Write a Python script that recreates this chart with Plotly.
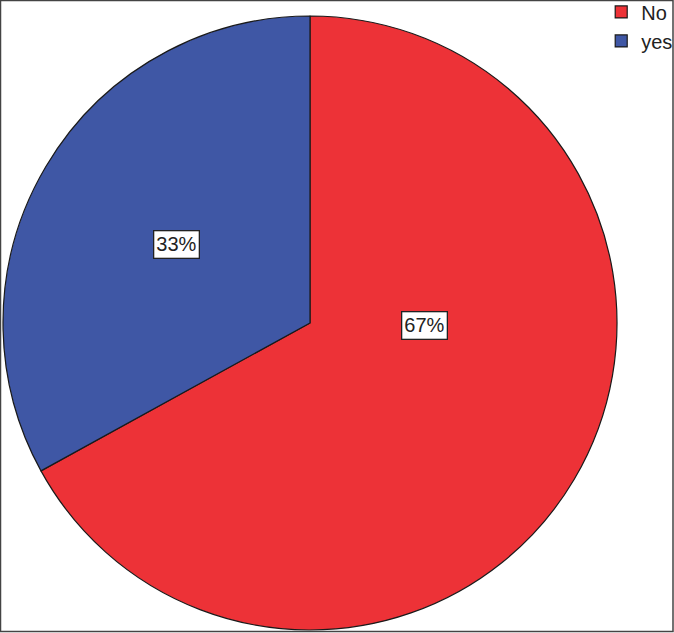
import plotly.graph_objects as go

labels = ['No', 'yes']
values = [67, 33]
colors = ['#ED3237', '#3F57A5']
label_text = ['67%', '33%']

W, H = 674, 633

fig = go.Figure(go.Pie(
    labels=labels,
    values=values,
    sort=False,
    direction='clockwise',
    rotation=0,
    marker=dict(colors=colors, line=dict(color='#1a1a1a', width=1.2)),
    textinfo='none',
    hoverinfo='label+percent',
    domain=dict(x=[3 / W, 617 / W], y=[3 / H, 617 / H]),
))

# boxed percentage labels, placed where the original chart puts them
label_font = dict(family='Arial, Liberation Sans', size=20, color='#222')
fig.add_annotation(x=425 / W, y=1 - 326 / H, xref='paper', yref='paper',
                   xanchor='center', yanchor='middle',
                   text=label_text[0], showarrow=False, font=label_font,
                   bgcolor='white', bordercolor='#222', borderwidth=1.3, borderpad=2)
fig.add_annotation(x=176 / W, y=1 - 244 / H, xref='paper', yref='paper',
                   xanchor='center', yanchor='middle',
                   text=label_text[1], showarrow=False, font=label_font,
                   bgcolor='white', bordercolor='#222', borderwidth=1.3, borderpad=2)

# frame around the whole chart
fig.add_shape(type='rect', xref='paper', yref='paper', x0=0.5 / W, y0=1.5 / H,
              x1=1 - 1 / W, y1=1 - 0.5 / H, line=dict(color='#444', width=1.5))

fig.update_layout(
    width=W, height=H,
    margin=dict(l=0, r=0, t=0, b=0, autoexpand=False),
    paper_bgcolor='white',
    font=dict(family='Arial, Liberation Sans', size=20, color='#222'),
    showlegend=True,
    legend=dict(x=0.892, y=1.012, xanchor='left', yanchor='top',
                font=dict(size=20), tracegroupgap=0,
                itemwidth=30, bgcolor='rgba(0,0,0,0)'),
)

# the page body has a default margin; remove it so the chart fills the window
fix_page = ("document.body.style.margin='0';"
            "document.body.style.overflow='hidden';")

fig.write_html("out.html", post_script=fix_page,
               config={'displayModeBar': False, 'responsive': False})
